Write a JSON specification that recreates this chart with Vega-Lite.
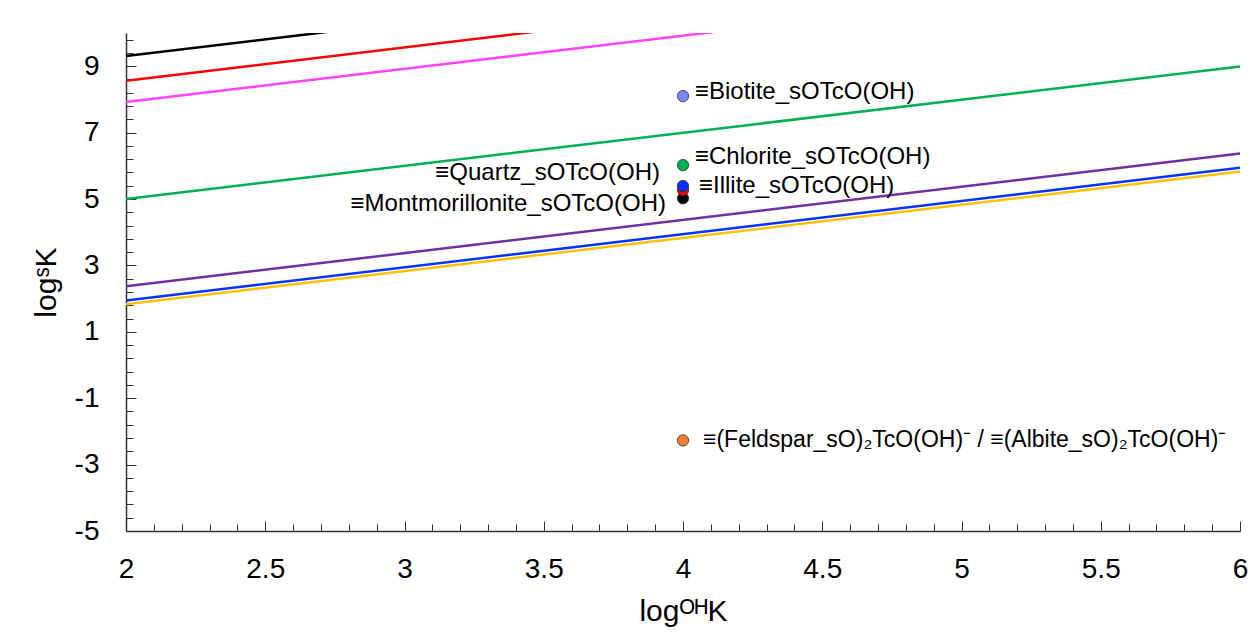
{
  "$schema": "https://vega.github.io/schema/vega-lite/v6.json",
  "width": 1114,
  "height": 498,
  "autosize": {"type": "none"},
  "padding": {"left": 126, "top": 33, "right": 8, "bottom": 103},
  "background": "white",
  "config": {"view": {"stroke": null}, "font": "Liberation Sans"},
  "datasets": {
    "lines": [
      {"series": "s1", "x": 2, "y": 9.31}, {"series": "s1", "x": 2.74, "y": 10.05},
      {"series": "s2", "x": 2, "y": 8.56}, {"series": "s2", "x": 3.48, "y": 10.05},
      {"series": "s3", "x": 2, "y": 7.92}, {"series": "s3", "x": 4.13, "y": 10.05},
      {"series": "s4", "x": 2, "y": 5.0}, {"series": "s4", "x": 6, "y": 8.99},
      {"series": "s5", "x": 2, "y": 2.37}, {"series": "s5", "x": 6, "y": 6.37},
      {"series": "s6", "x": 2, "y": 1.94}, {"series": "s6", "x": 6, "y": 5.94},
      {"series": "s7", "x": 2, "y": 1.83}, {"series": "s7", "x": 6, "y": 5.83}
    ],
    "points": [
      {"mineral": "Montmorillonite", "x": 4, "y": 5.02, "label": "≡Montmorillonite_sOTcO(OH)"},
      {"mineral": "Quartz", "x": 4, "y": 5.27, "label": "≡Quartz_sOTcO(OH)"},
      {"mineral": "Illite", "x": 4, "y": 5.39, "label": "≡Illite_sOTcO(OH)"},
      {"mineral": "Chlorite", "x": 4, "y": 6.02, "label": "≡Chlorite_sOTcO(OH)"},
      {"mineral": "Biotite", "x": 4, "y": 8.10, "label": "≡Biotite_sOTcO(OH)"},
      {"mineral": "Feldspar", "x": 4, "y": -2.27, "label": "≡(Feldspar_sO)₂TcO(OH)⁻ / ≡(Albite_sO)₂TcO(OH)⁻"}
    ]
  },
  "encoding": {
    "x": {
      "field": "x", "type": "quantitative",
      "scale": {"domain": [2, 6], "nice": false, "zero": false},
      "axis": {
        "values": [2,2.1,2.2,2.3,2.4,2.5,2.6,2.7,2.8,2.9,3,3.1,3.2,3.3,3.4,3.5,3.6,3.7,3.8,3.9,4,4.1,4.2,4.3,4.4,4.5,4.6,4.7,4.8,4.9,5,5.1,5.2,5.3,5.4,5.5,5.6,5.7,5.8,5.9,6],
        "labelExpr": "abs(datum.value*2 - round(datum.value*2)) < 0.001 ? toString(datum.value) : ''",
        "tickSize": {"expr": "abs(datum.value*2 - round(datum.value*2)) < 0.001 ? -10 : -7"},
        "grid": false,
        "domainColor": "#333333", "domainWidth": 1.5,
        "tickColor": "#333333", "tickWidth": 1,
        "labelFontSize": 28, "labelColor": "black", "labelPadding": 34,
        "labelFlush": false, "labelOverlap": false,
        "title": "logᴼᴴK", "titleFontSize": 30, "titleFontWeight": "normal", "titleColor": "black", "titlePadding": 10
      }
    },
    "y": {
      "field": "y", "type": "quantitative",
      "scale": {"domain": [-5, 10], "nice": false, "zero": false},
      "axis": {
        "values": [-5,-4.6,-4.2,-3.8,-3.4,-3,-2.6,-2.2,-1.8,-1.4,-1,-0.6,-0.2,0.2,0.6,1,1.4,1.8,2.2,2.6,3,3.4,3.8,4.2,4.6,5,5.4,5.8,6.2,6.6,7,7.4,7.8,8.2,8.6,9,9.4,9.8],
        "labelExpr": "datum.value === round(datum.value) ? toString(datum.value) : ''",
        "tickSize": {"expr": "datum.value === round(datum.value) ? -10 : -7"},
        "grid": false,
        "domainColor": "#333333", "domainWidth": 1.5,
        "tickColor": "#333333", "tickWidth": 1,
        "labelFontSize": 28, "labelColor": "black", "labelPadding": 37,
        "labelFlush": false, "labelOverlap": false,
        "title": "logˢK", "titleFontSize": 30, "titleFontWeight": "normal", "titleColor": "black", "titlePadding": 13
      }
    }
  },
  "layer": [
    {
      "data": {"name": "lines"},
      "mark": {"type": "line", "strokeWidth": 2.5, "clip": true},
      "encoding": {
        "color": {
          "field": "series", "type": "nominal",
          "scale": {"domain": ["s1","s2","s3","s4","s5","s6","s7"], "range": ["#000000","#ff0000","#ff40ff","#00b050","#7030a0","#0433ff","#ffc000"]},
          "legend": null
        }
      }
    },
    {
      "data": {"name": "points"},
      "mark": {"type": "circle", "size": 130, "opacity": 1, "stroke": "#333333", "strokeWidth": 0.8},
      "encoding": {
        "fill": {
          "field": "mineral", "type": "nominal",
          "scale": {"domain": ["Montmorillonite","Quartz","Illite","Chlorite","Biotite","Feldspar"], "range": ["#000000","#ff0000","#0433ff","#00b050","#7f84f5","#ed7d31"]},
          "legend": null
        }
      }
    },
    {
      "data": {"name": "points"},
      "transform": [{"filter": "datum.mineral === 'Biotite'"}],
      "mark": {"type": "text", "align": "left", "baseline": "middle", "dx": 12, "dy": -4, "fontSize": 24, "color": "black"},
      "encoding": {"text": {"field": "label"}}
    },
    {
      "data": {"name": "points"},
      "transform": [{"filter": "datum.mineral === 'Chlorite'"}],
      "mark": {"type": "text", "align": "left", "baseline": "middle", "dx": 12, "dy": -8, "fontSize": 24, "color": "black"},
      "encoding": {"text": {"field": "label"}}
    },
    {
      "data": {"name": "points"},
      "transform": [{"filter": "datum.mineral === 'Illite'"}],
      "mark": {"type": "text", "align": "left", "baseline": "middle", "dx": 16, "dy": 0, "fontSize": 24, "color": "black"},
      "encoding": {"text": {"field": "label"}}
    },
    {
      "data": {"name": "points"},
      "transform": [{"filter": "datum.mineral === 'Feldspar'"}],
      "mark": {"type": "text", "align": "left", "baseline": "middle", "dx": 20, "dy": 0, "fontSize": 23, "color": "black"},
      "encoding": {"text": {"field": "label"}}
    },
    {
      "data": {"name": "points"},
      "transform": [{"filter": "datum.mineral === 'Quartz'"}],
      "mark": {"type": "text", "align": "right", "baseline": "middle", "dx": -23, "dy": -17, "fontSize": 24, "color": "black"},
      "encoding": {"text": {"field": "label"}}
    },
    {
      "data": {"name": "points"},
      "transform": [{"filter": "datum.mineral === 'Montmorillonite'"}],
      "mark": {"type": "text", "align": "right", "baseline": "middle", "dx": -17, "dy": 6, "fontSize": 24, "color": "black"},
      "encoding": {"text": {"field": "label"}}
    }
  ],
  "resolve": {"scale": {"color": "independent"}}
}
